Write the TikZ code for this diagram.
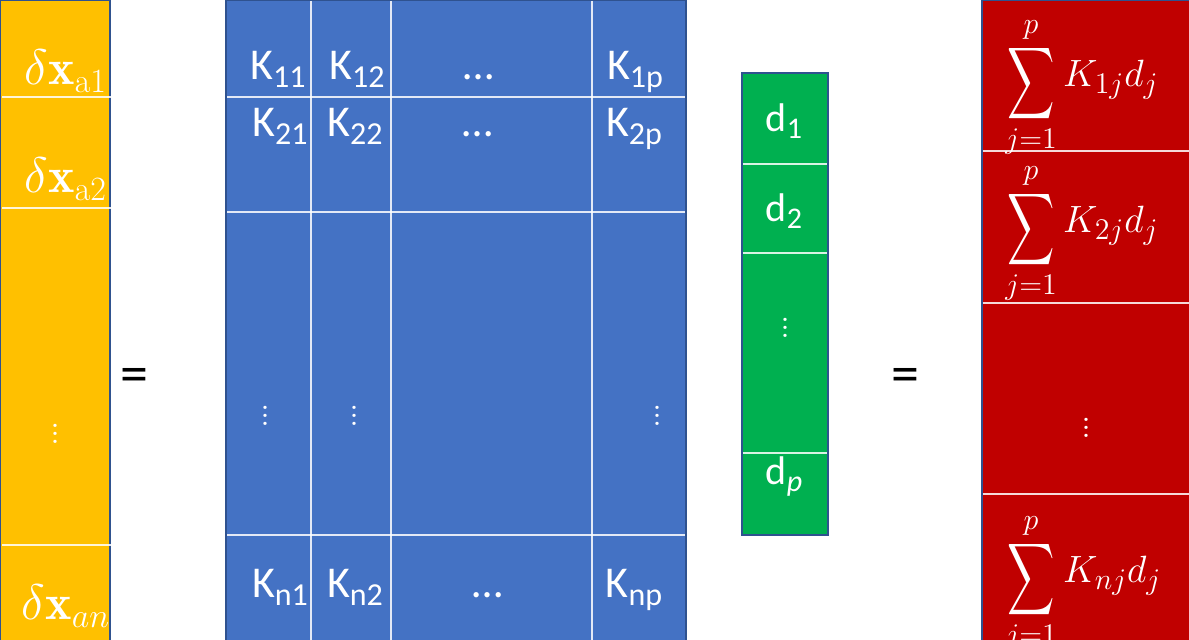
\RequirePackage{fix-cm}
\documentclass[tikz,border=0pt]{standalone}
\usepackage{amsmath}
\usepackage{fontspec}
\newfontfamily\cali{Carlito}
\usetikzlibrary{positioning}
\definecolor{Yellow}{HTML}{FFC000}
\definecolor{Blue}{HTML}{4472C4}
\definecolor{Green}{HTML}{00B050}
\definecolor{Red}{HTML}{C00000}
\definecolor{Edge}{HTML}{2F528F}
\DeclareMathSizes{25}{25}{17}{12}
\DeclareMathSizes{19}{19}{15}{11}
\newcommand\ksub[2]{#1\raisebox{-4pt}{\fontsize{16}{18}\selectfont #2}}
\newcommand\dsub[2]{#1\raisebox{-3.5pt}{\fontsize{15}{17}\selectfont #2}}
\newcommand\bigsum{\mathop{\raisebox{-5pt}{\scalebox{.95}[1.45]{$\displaystyle\sum$}}}\limits}
\tikzset{
  boxedge/.style={draw=Edge,line width=1pt},
  cellline/.style={white,line width=.75pt,opacity=.85},
  ktext/.style={text=white,inner sep=0pt,anchor=base,font=\cali\fontsize{22}{26}\selectfont},
  dtext/.style={text=white,inner sep=0pt,anchor=base,font=\cali\fontsize{20}{24}\selectfont},
  xtext/.style={text=white,inner sep=0pt,anchor=base,font=\fontsize{25}{30}\selectfont},
  stext/.style={text=white,inner sep=0pt,anchor=base west,font=\fontsize{19}{23}\selectfont},
  vdotstext/.style={text=white,inner sep=0pt,font=\fontsize{20}{24}\selectfont},
  eqtext/.style={inner sep=0pt,font=\cali\fontsize{28}{32}\selectfont}
}

\begin{document}
\begin{tikzpicture}[x=.5pt,y=-.5pt]
  \useasboundingbox (0,0) rectangle (1189,640);
  \clip (0,0) rectangle (1189,640);
  % boxes
  \filldraw[fill=Yellow,boxedge] (0,0) rectangle (110,680);
  \filldraw[fill=Blue,boxedge] (226,0) rectangle (686,680);
  \filldraw[fill=Green,boxedge] (742,73) rectangle (828,535);
  \filldraw[fill=Red,boxedge] (982,0) rectangle (1210,680);
  % cell lines
  \foreach \y in {97,208,545}{\draw[cellline] (2,\y)--(112,\y);}
  \foreach \y in {97,212,535}{\draw[cellline] (227,\y)--(685,\y);}
  \foreach \x in {311,391,592}{\draw[cellline] (\x,1)--(\x,680);}
  \foreach \y in {164,253,453}{\draw[cellline] (743,\y)--(827,\y);}
  \foreach \y in {151,303,494}{\draw[cellline] (983,\y)--(1189,\y);}
  % left vector
  \node[xtext] (xa1) at (66,85) {$\delta\mathbf{x}_{\mathrm{a1}}$};
  \node[xtext] (xa2) at (66,193) {$\delta\mathbf{x}_{\mathrm{a2}}$};
  \node[xtext] (xan) at (66,620) {$\delta\mathbf{x}_{an}$};
  \node[vdotstext] (xdots) at (55,428) {$\vdots$};
  \node[eqtext] (eqa) at (134,380) {=};
  % matrix
  \foreach \nm/\x/\y/\s in {k11/278/80/11,k12/357/80/12,k1p/635/80/1p,
      k21/280/137/21,k22/355/137/22,k2p/634/137/2p,
      kn1/280/598/n1,kn2/355/598/n2,knp/634/598/np}
    \node[ktext] (\nm) at (\x,\y) {\ksub{K}{\s}};
  \foreach \nm/\x/\y in {kd1/479/80,kd2/478/137,kdn/488/598}
    \node[ktext] (\nm) at (\x,\y) {…};
  \foreach \nm/\x in {kv1/265,kv2/354,kvp/657}
    \node[vdotstext] (\nm) at (\x,410) {$\vdots$};
  % d vector
  \node[dtext] (d1) at (784,132) {\dsub{d}{1}};
  \node[dtext] (d2) at (784,222) {\dsub{d}{2}};
  \node[dtext] (dp) at (784,485) {\dsub{d}{\textit{p}}};
  \node[vdotstext] (ddots) at (785,322) {$\vdots$};
  \node[eqtext] (eqb) at (905,380) {=};
  % result
  \node[stext] (s1) at (1005,87) {$\bigsum_{j=1}^{p}K_{1j}d_j$};
  \node[stext] (s2) at (1005,233) {$\bigsum_{j=1}^{p}K_{2j}d_j$};
  \node[stext] (sn) at (1005,583) {$\bigsum_{j=1}^{p}K_{nj}d_j$};
  \node[vdotstext] (sdots) at (1086,422) {$\vdots$};
\end{tikzpicture}
\end{document}
